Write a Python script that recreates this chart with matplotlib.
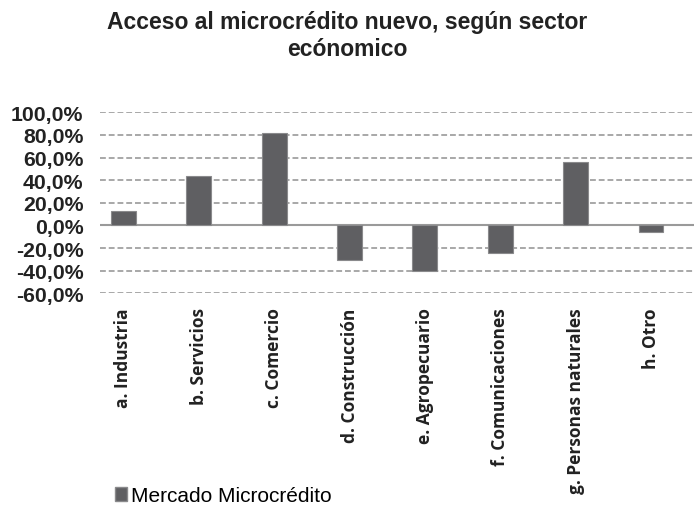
import matplotlib
matplotlib.use("Agg")
import matplotlib.pyplot as plt
from matplotlib.patches import Patch

categories = ["a. Industria", "b. Servicios", "c. Comercio", "d. Construcción",
              "e. Agropecuario", "f. Comunicaciones", "g. Personas naturales", "h. Otro"]
values = [12.7, 44.0, 82.0, -31.0, -40.0, -24.3, 56.4, -5.5]
yticks = [-60, -40, -20, 0, 20, 40, 60, 80, 100]
series_name = "Mercado Microcrédito"

fig = plt.figure(figsize=(6.94, 5.06), dpi=100)
ax = fig.add_axes([100 / 694, 1 - 294.3 / 506, 594 / 694, (294.3 - 113.3) / 506])

bar_color = "#5f5f62"
ax.bar(range(len(categories)), values, width=0.33, color=bar_color,
       edgecolor="#8a8a8c", linewidth=0.8, zorder=3)

ax.set_ylim(-60, 100)
ax.set_xlim(-0.31, 7.57)
ax.set_yticks(yticks)
ax.set_yticklabels([f"{v:.1f}%".replace(".", ",") for v in yticks],
                   fontfamily="Liberation Sans", fontweight="bold", fontsize=15.3,
                   color="#222222")
for v in yticks:
    if v == 0:
        ax.axhline(v, color="#9a9a9a", linewidth=1.5, zorder=2)
    else:
        ax.axhline(v, color="#a8a8a8", linewidth=1.4, linestyle=(0, (3, 1.5)), zorder=1)

ax.set_xticks(range(len(categories)))
ax.set_xticklabels(categories, rotation=90, fontfamily="Open Sans", fontweight="bold",
                   fontsize=12.5, color="#222222", va="top")
ax.tick_params(axis="both", length=0)
ax.tick_params(axis="y", pad=12)
ax.tick_params(axis="x", pad=10)
for s in ax.spines.values():
    s.set_visible(False)

fig.suptitle("Acceso al microcrédito nuevo, según sector\necónomico",
             x=0.5, y=0.978, fontfamily="Liberation Sans", fontweight="bold",
             fontsize=16.5, color="#222222", linespacing=1.2)

# legend sits bottom-left, under the first labels
fig.legend(handles=[Patch(facecolor=bar_color, edgecolor="#8a8a8c")], labels=[series_name],
           loc="lower left", bbox_to_anchor=(0.138, -0.038), frameon=False,
           prop={"family": "Liberation Sans", "size": 15},
           handlelength=0.6, handleheight=0.7, handletextpad=0.2)

fig.savefig("out.png", dpi=100)
